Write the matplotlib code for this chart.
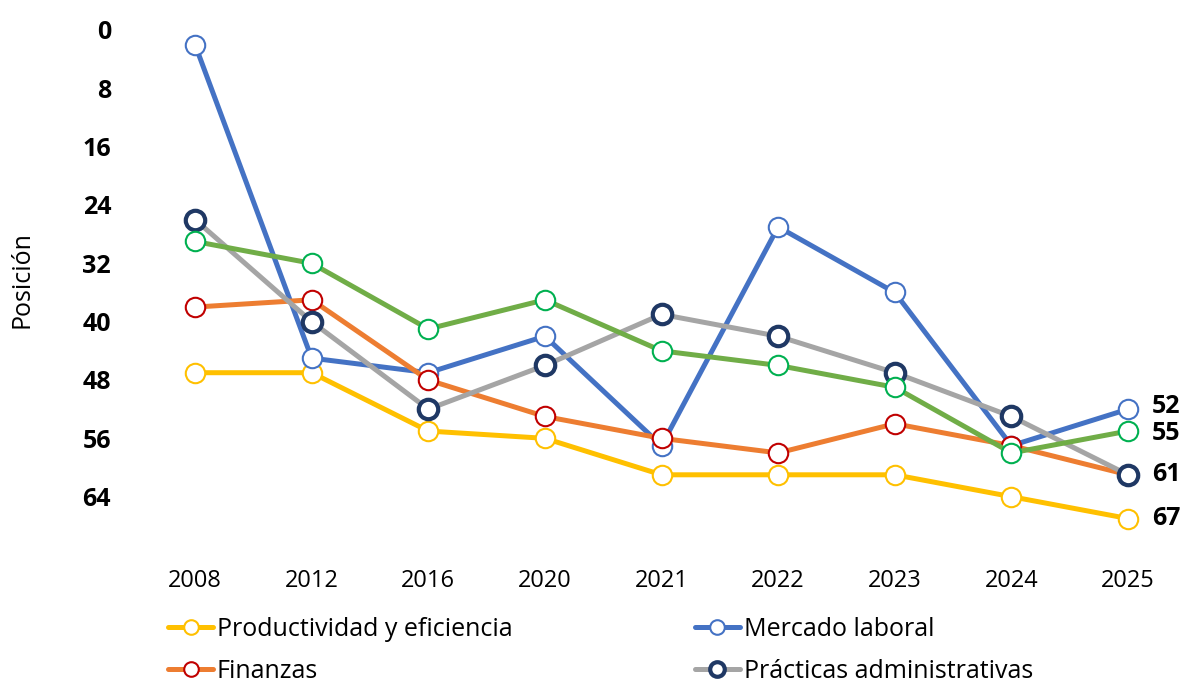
import matplotlib.pyplot as plt

plt.rcParams['font.family'] = ['Open Sans', 'DejaVu Sans']

years = ["2008", "2012", "2016", "2020", "2021", "2022", "2023", "2024", "2025"]
productividad = [47, 47, 55, 56, 61, 61, 61, 64, 67]
mercado = [2, 45, 47, 42, 57, 27, 36, 57, 52]
finanzas = [38, 37, 48, 53, 56, 58, 54, 57, 61]
practicas = [26, 40, 52, 46, 39, 42, 47, 53, 61]
otro = [29, 32, 41, 37, 44, 46, 49, 58, 55]
yticks = [0, 8, 16, 24, 32, 40, 48, 56, 64]

x = list(range(len(years)))

fig = plt.figure(figsize=(11.84, 6.84), dpi=100)
ax = fig.add_axes([150 / 1184, 1 - 555 / 684, 1010 / 1184, 525 / 684])

series = [
    (productividad, "Productividad y eficiencia", "#FFC000", "#FFC000", 1.5),
    (mercado, "Mercado laboral", "#4472C4", "#4472C4", 1.5),
    (finanzas, "Finanzas", "#ED7D31", "#C00000", 1.5),
    (practicas, "Prácticas administrativas", "#A5A5A5", "#1F3864", 3.0),
    (otro, None, "#70AD47", "#00B050", 1.5),
]

handles = []
for vals, lab, lc, ec, mew in series:
    h, = ax.plot(x, vals, color=lc, lw=3.6, marker="o", ms=14,
                 mfc="white", mec=ec, mew=mew, label=lab, solid_capstyle="round")
    if lab:
        handles.append(h)

# etiquetas finales (52 y 55 un poco separadas)
for vals, dy in [(mercado, 2), (otro, -2), (practicas, 0), (productividad, 0)]:
    ax.annotate(str(vals[-1]), (x[-1], vals[-1]), xytext=(17, dy),
                textcoords="offset points", va="center", ha="left",
                fontsize=18, fontweight="bold")

ax.set_ylim(72, 0)
ax.set_xlim(-0.386, 8.274)
ax.set_yticks(yticks)
ax.set_yticklabels([str(v) for v in yticks], fontsize=18, fontweight="bold")
ax.set_xticks(x)
ax.set_xticklabels(years, fontsize=17)
ax.tick_params(axis="y", length=0, pad=28)
ax.tick_params(axis="x", length=0, pad=10)
for s in ax.spines.values():
    s.set_visible(False)

fig.text(22 / 1184, 1 - 280 / 684, "Posición", rotation=90, fontsize=18,
         ha="center", va="center")

# orden por filas: matplotlib llena por columnas
order = [handles[0], handles[2], handles[1], handles[3]]
fig.legend(order, [h.get_label() for h in order], ncol=2, frameon=False,
           loc="upper left", bbox_to_anchor=(168 / 1184, 1 - 617 / 684),
           fontsize=18, handlelength=1.8, handletextpad=0.15,
           columnspacing=7.3, labelspacing=0.68, borderaxespad=0, borderpad=0,
           markerscale=0.75)

fig.savefig("out.png", dpi=100)
